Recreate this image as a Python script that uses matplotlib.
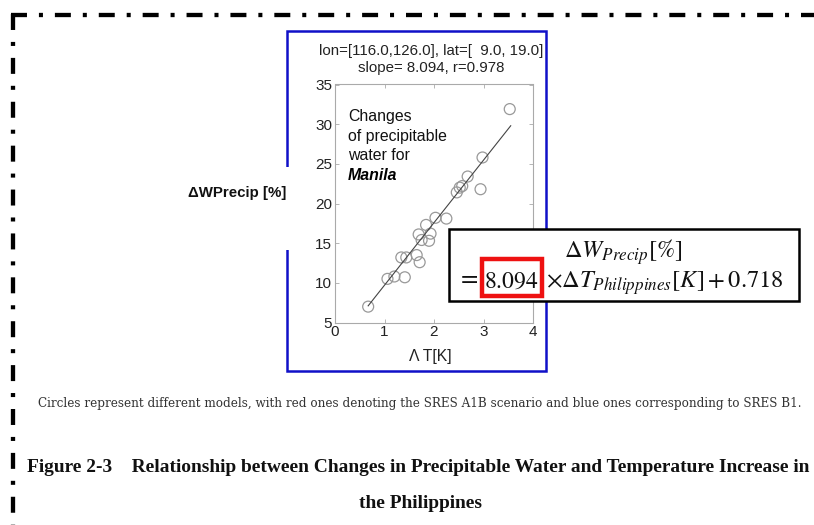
import matplotlib
matplotlib.use("Agg")
import matplotlib.pyplot as plt
from matplotlib.lines import Line2D
from matplotlib.patches import Rectangle

plt.rcParams['lines.scale_dashes'] = False
plt.rcParams['mathtext.fontset'] = 'stix'

W, H = 814, 525

# circles: temperature change [K] vs precipitable water change [%]
dT = [0.67, 1.06, 1.20, 1.41, 1.34, 1.44, 1.65, 1.71, 1.69, 1.75, 1.84,
      1.90, 1.93, 2.03, 2.25, 2.46, 2.52, 2.57, 2.68, 2.94, 2.98, 3.53]
dW = [7.0, 10.5, 10.8, 10.7, 13.2, 13.2, 13.5, 12.6, 16.1, 15.4, 17.3,
      15.3, 16.2, 18.2, 18.1, 21.4, 22.0, 22.2, 23.4, 21.8, 25.8, 31.9]
# ends of the fitted line
fit_x = [0.67, 3.55]
fit_y = [7.1, 29.8]

x_ticks = [0, 1, 2, 3, 4]
y_ticks = [5, 10, 15, 20, 25, 30, 35]

title_lines = ["lon=[116.0,126.0], lat=[  9.0, 19.0]", "slope= 8.094, r=0.978"]
note_lines = ["Changes", "of precipitable", "water for"]
caption = ("Circles represent different models, with red ones denoting the SRES A1B "
           "scenario and blue ones corresponding to SRES B1.")
fig_title1 = "Figure 2-3    Relationship between Changes in Precipitable Water and Temperature Increase in"
fig_title2 = "the Philippines"


def fx(x):
    return x / W


def fy(y):
    return 1 - y / H


fig = plt.figure(figsize=(W / 100, H / 100), dpi=100)
fig.patch.set_facecolor('white')


def fit_width(txt, width_px):
    # shrink or grow a text so it spans the given width in pixels
    r = fig.canvas.get_renderer()
    w = txt.get_window_extent(r).width
    txt.set_fontsize(txt.get_fontsize() * width_px / w)


# dash-dot frame around the figure
frame = dict(color='black', lw=3.1, dashes=(11.5, 8.6, 2.9, 8.6),
             solid_capstyle='butt', dash_capstyle='butt', transform=fig.transFigure)
fig.add_artist(Line2D([fx(11), fx(814)], [fy(15), fy(15)], **frame))
fig.add_artist(Line2D([fx(13), fx(13)], [fy(14), fy(525)], **frame))

# blue box around the plot
fig.add_artist(Rectangle((fx(287), fy(371)), fx(546) - fx(287), fy(31) - fy(371),
                         fill=False, ec='#1010c8', lw=1.8, transform=fig.transFigure))
# white gap where the y label sits
fig.add_artist(Rectangle((fx(280), fy(250)), fx(14), fy(167) - fy(250),
                         fc='white', ec='none', transform=fig.transFigure))

ax = fig.add_axes([fx(335), fy(322.5), fx(533) - fx(335), fy(84.5) - fy(322.5)])
ax.scatter(dT, dW, s=62, facecolors='none', edgecolors='#999999', linewidths=0.9)
ax.plot(fit_x, fit_y, color='#444444', lw=0.8)
ax.set_xlim(0, 4)
ax.set_ylim(5, 35)
ax.set_xticks(x_ticks)
ax.set_yticks(y_ticks)
ax.tick_params(direction='in', length=3, width=0.6, color='#aaaaaa', labelcolor='#222222',
               labelsize=11, top=True, right=True, pad=2)
for lab in ax.get_xticklabels() + ax.get_yticklabels():
    lab.set_family('Liberation Sans')
for sp in ax.spines.values():
    sp.set_color('#aaaaaa')
    sp.set_linewidth(0.8)

fig.text(fx(431), fy(51), title_lines[0], ha='center', va='center',
         family='Liberation Sans', fontsize=10.8, color='#222222')
fig.text(fx(431), fy(68), title_lines[1], ha='center', va='center',
         family='Liberation Sans', fontsize=10.8, color='#222222')
fig.text(fx(430), fy(356), "Λ T[K]", ha='center', va='center',
         family='Liberation Sans', fontsize=11.3, color='#222222')
fig.text(fx(237), fy(193), "ΔWPrecip [%]", ha='center', va='center',
         family='Liberation Sans', fontsize=10.8, weight='bold', color='#111111')

for i, line in enumerate(note_lines):
    fig.text(fx(348), fy(117 + 19.5 * i), line, ha='left', va='center',
             family='Liberation Sans', fontsize=11.4, color='#111111')
fig.text(fx(348), fy(175.5), "Manila", ha='left', va='center',
         family='Liberation Sans', fontsize=11.4, weight='bold', style='italic')

# equation box
fig.add_artist(Rectangle((fx(449), fy(301)), fx(799) - fx(449), fy(229) - fy(301),
                         fc='white', ec='black', lw=1.8, transform=fig.transFigure))
fig.text(fx(623), fy(258), r"$\Delta W_{Precip}[\%]$", ha='center', va='baseline',
         fontsize=17.5, color='#111111')
fig.text(fx(479), fy(284), r"$=$", ha='right', va='baseline', fontsize=18, color='#111111')
fig.text(fx(511), fy(288), r"$8.094$", ha='center', va='baseline', fontsize=17, color='#111111')
eq_rest = fig.text(fx(546), fy(288), r"$\times\Delta T_{Philippines}[K]+0.718$", ha='left',
                   va='baseline', fontsize=18, color='#111111')
fit_width(eq_rest, 237)
fig.add_artist(Rectangle((fx(482), fy(296)), fx(542) - fx(482), fy(259) - fy(296),
                         fill=False, ec='#ee1111', lw=3.2, transform=fig.transFigure))

cap = fig.text(fx(420), fy(403), caption, ha='center', va='center',
               family='DejaVu Serif', fontsize=8, color='#333333')
fit_width(cap, 760)
t1 = fig.text(fx(418), fy(468), fig_title1, ha='center', va='center',
              family='Liberation Serif', fontsize=13.5, weight='bold', color='#111111')
fit_width(t1, 783)
fig.text(fx(420), fy(503), fig_title2, ha='center', va='center',
         family='Liberation Serif', fontsize=t1.get_fontsize(), weight='bold', color='#111111')

fig.savefig("out.png", dpi=100)
